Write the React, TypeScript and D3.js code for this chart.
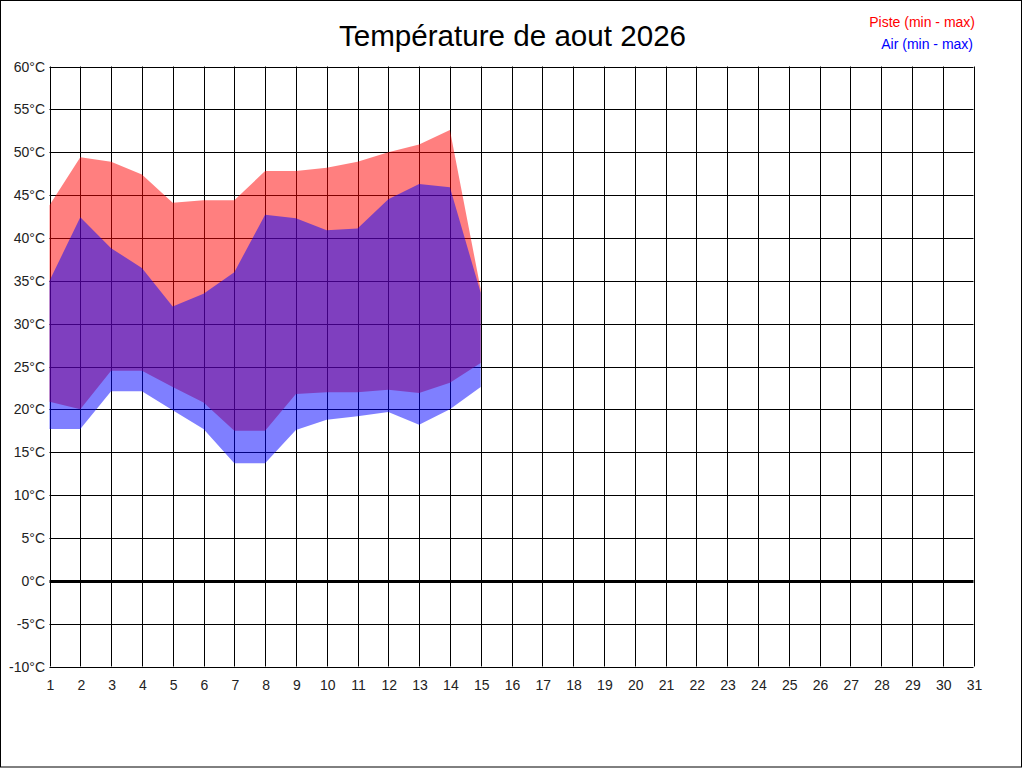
import { useRef, useEffect } from 'react';
import * as d3 from 'd3';

// Days of the month with readings (aout 2026)
const DAYS = [1, 2, 3, 4, 5, 6, 7, 8, 9, 10, 11, 12, 13, 14, 15];

// Piste (track) temperature, °C
const PISTE_MIN = [20.9, 20.0, 24.5, 24.5, 22.6, 20.8, 17.5, 17.5, 21.8, 22.0, 22.0, 22.3, 21.9, 23.1, 25.4];
const PISTE_MAX = [43.8, 49.4, 48.9, 47.4, 44.1, 44.4, 44.4, 47.8, 47.8, 48.2, 48.9, 50.0, 50.9, 52.6, 34.0];

// Air temperature, °C
const AIR_MIN = [17.7, 17.7, 22.1, 22.1, 19.9, 17.7, 13.7, 13.7, 17.6, 18.8, 19.2, 19.7, 18.2, 20.0, 22.6];
const AIR_MAX = [35.0, 42.4, 38.8, 36.5, 32.0, 33.5, 36.0, 42.7, 42.3, 40.9, 41.1, 44.5, 46.3, 45.9, 33.6];

const X_TICKS = d3.range(1, 32);
const Y_TICKS = d3.range(-10, 61, 5);

const TITLE = 'Température de aout 2026';
const FONT = '"Liberation Sans", Arial, sans-serif';

const WIDTH = 1024;
const HEIGHT = 768;

export default function App() {
  const svgRef = useRef<SVGSVGElement>(null);

  useEffect(() => {
    if (!svgRef.current) return;
    const svg = d3.select(svgRef.current);
    svg.selectAll('*').remove();

    const x = d3.scaleLinear().domain([1, 31]).range([49.5, 973.5]);
    const y = d3.scaleLinear().domain([-10, 60]).range([666.5, 66.5]);

    // outer frame
    svg.append('rect')
      .attr('x', 0.5).attr('y', 0.5)
      .attr('width', 1021).attr('height', 766.5)
      .attr('fill', '#fff').attr('stroke', '#000');

    // title
    svg.append('text')
      .attr('x', 512.5).attr('y', 46)
      .attr('text-anchor', 'middle')
      .attr('font-family', FONT)
      .attr('font-size', '29.6px')
      .attr('fill', '#000')
      .text(TITLE);

    // legend
    svg.append('text')
      .attr('x', 975).attr('y', 27)
      .attr('text-anchor', 'end')
      .attr('font-family', FONT).attr('font-size', '14px')
      .attr('fill', '#ff0000')
      .text('Piste (min - max)');
    svg.append('text')
      .attr('x', 973).attr('y', 49)
      .attr('text-anchor', 'end')
      .attr('font-family', FONT).attr('font-size', '14px')
      .attr('fill', '#0000ff')
      .text('Air (min - max)');

    const g = svg.append('g');

    // grid
    g.selectAll('line.vgrid')
      .data(X_TICKS)
      .join('line')
      .attr('class', 'vgrid')
      .attr('x1', (d) => Math.round(x(d)) + 0.5)
      .attr('x2', (d) => Math.round(x(d)) + 0.5)
      .attr('y1', y(60)).attr('y2', y(-10))
      .attr('stroke', '#000').attr('stroke-width', 1);

    g.selectAll('line.hgrid')
      .data(Y_TICKS)
      .join('line')
      .attr('class', 'hgrid')
      .attr('x1', x(1)).attr('x2', x(31))
      .attr('y1', (d) => Math.round(y(d)) + 0.5)
      .attr('y2', (d) => Math.round(y(d)) + 0.5)
      .attr('stroke', '#000')
      .attr('stroke-width', (d) => (d === 0 ? 3 : 1));

    // bands
    const pisteArea = d3.area<number>()
      .x((d) => x(d))
      .y0((_, i) => y(PISTE_MIN[i]))
      .y1((_, i) => y(PISTE_MAX[i]));
    const airArea = d3.area<number>()
      .x((d) => x(d))
      .y0((_, i) => y(AIR_MIN[i]))
      .y1((_, i) => y(AIR_MAX[i]));

    g.append('path')
      .datum(DAYS)
      .attr('d', pisteArea)
      .attr('fill', '#ff0000')
      .attr('fill-opacity', 0.5);
    g.append('path')
      .datum(DAYS)
      .attr('d', airArea)
      .attr('fill', '#0000ff')
      .attr('fill-opacity', 0.5);

    // y labels
    g.selectAll('text.ylab')
      .data(Y_TICKS)
      .join('text')
      .attr('class', 'ylab')
      .attr('x', 45)
      .attr('y', (d) => y(d) + 5)
      .attr('text-anchor', 'end')
      .attr('font-family', FONT).attr('font-size', '14px')
      .attr('fill', '#222')
      .text((d) => d + '°C');

    // x labels
    g.selectAll('text.xlab')
      .data(X_TICKS)
      .join('text')
      .attr('class', 'xlab')
      .attr('x', (d) => x(d) + 1)
      .attr('y', 690)
      .attr('text-anchor', 'middle')
      .attr('font-family', FONT).attr('font-size', '14px')
      .attr('fill', '#222')
      .text((d) => String(d));
  }, []);

  return (
    <svg
      ref={svgRef}
      width={WIDTH}
      height={HEIGHT}
      style={{ position: 'absolute', left: 0, top: 0, display: 'block' }}
    />
  );
}
